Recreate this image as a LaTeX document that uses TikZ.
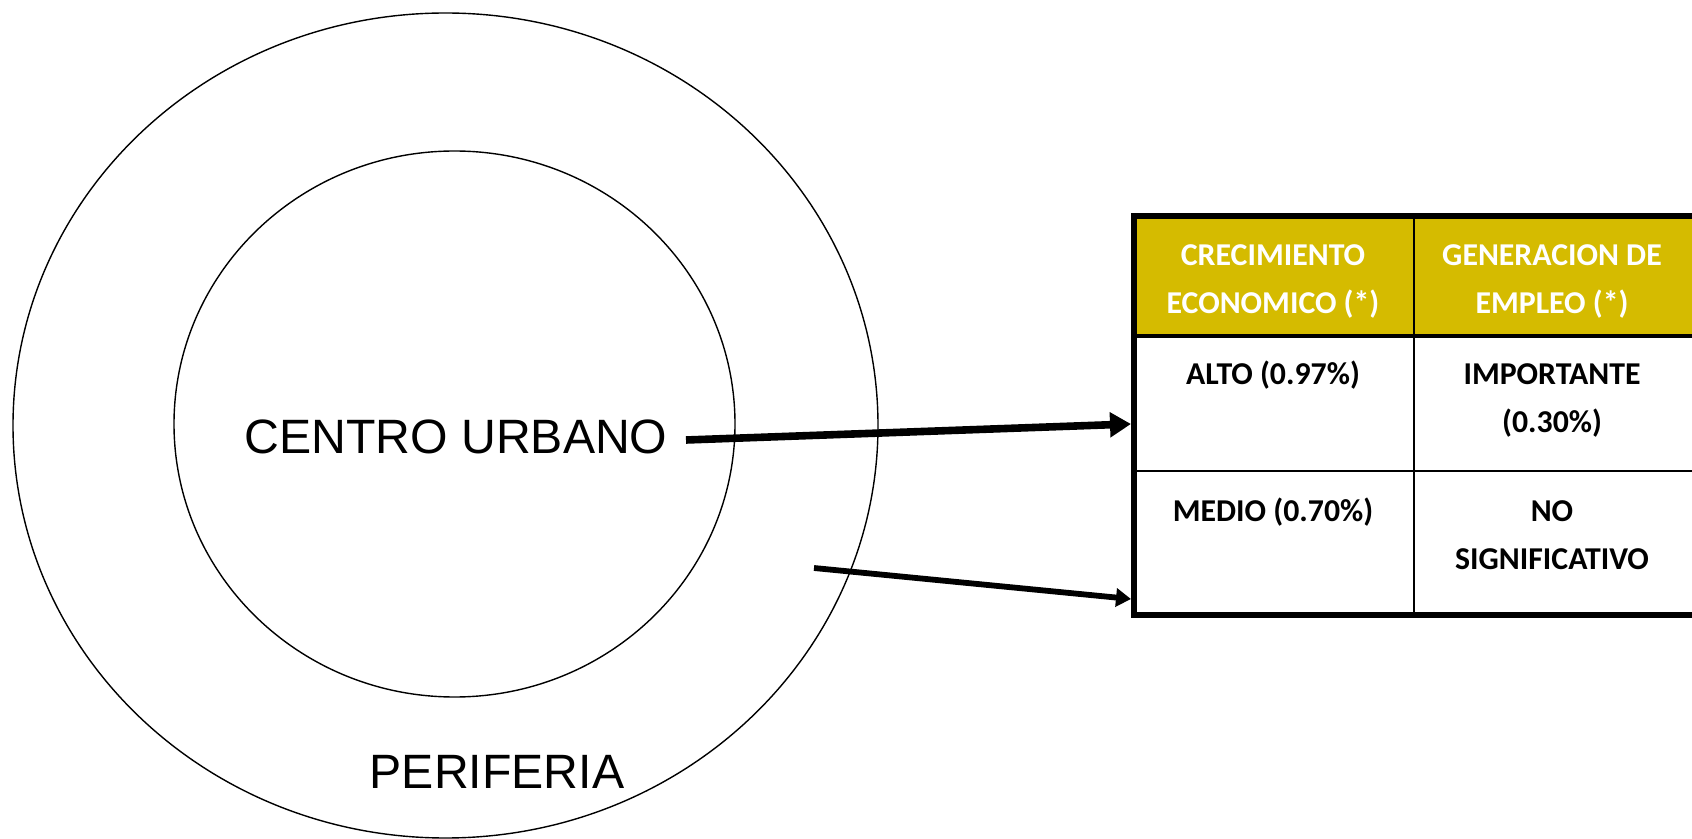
\documentclass[tikz,border=0pt]{standalone}
\usepackage{fontspec}
\setmainfont{Liberation Sans}
\newfontfamily\calfont{Carlito}
\usetikzlibrary{arrows.meta,shapes.geometric}
\definecolor{headgold}{RGB}{213,187,0}
\newcommand\mycell[1]{\parbox[t]{135pt}{\centering #1}}
\begin{document}
\begin{tikzpicture}[x=0.5pt,y=-0.5pt,
  ring/.style={ellipse,draw,line width=0.7pt,inner sep=0pt,outer sep=0pt},
  bigtext/.style={font=\fontsize{24.1pt}{28pt}\selectfont,anchor=base,inner sep=0pt},
  celltext/.style={font=\calfont\bfseries\fontsize{15.9pt}{24pt}\selectfont,anchor=base,inner sep=0pt},
  headtext/.style={celltext,text=white},
  bigarrow/.style={line width=3.8pt,-{Triangle[length=10.5pt,width=12pt]}},
  smallarrow/.style={line width=2.9pt,-{Triangle[length=7.5pt,width=9pt]}},
  thinrule/.style={line width=1.2pt},
  headrule/.style={line width=1.6pt},
  tabframe/.style={draw,line width=3pt,rectangle,inner sep=0pt,minimum width=280.5pt,minimum height=199.5pt}
]
\useasboundingbox (0,0) rectangle (1692,839);
\fill[white] (0,0) rectangle (1692,839);
\clip (0,0) rectangle (1692,839);

% rings
\node[ring,minimum width=432.5pt,minimum height=412.5pt] (outer) at (445.5,425.5) {};
\node[ring,minimum width=280.5pt,minimum height=273pt] (inner) at (454.5,424) {};

\node[bigtext] (cu) at (456,453) {CENTRO URBANO};
\node[bigtext] (peri) at (497,788) {PERIFERIA};

% table
\fill[headgold] (1134,216) rectangle (1695,336);
\draw[headrule] (1134,336) -- (1695,336);
\draw[thinrule] (1134,471) -- (1695,471);
\draw[thinrule] (1414,216) -- (1414,615);
\node[tabframe] (tab) at (1414.5,415.5) {};

\node[headtext] (h1) at (1273,266) {\mycell{CRECIMIENTO\\ECONOMICO (*)}};
\node[headtext] (h2) at (1552,266) {\mycell{GENERACION DE\\EMPLEO (*)}};
\node[celltext] (c11) at (1273,385) {\mycell{ALTO (0.97\%)}};
\node[celltext] (c12) at (1552,385) {\mycell{IMPORTANTE\\(0.30\%)}};
\node[celltext] (c21) at (1273,522) {\mycell{MEDIO (0.70\%)}};
\node[celltext] (c22) at (1552,522) {\mycell{NO\\SIGNIFICATIVO}};

% arrows
\coordinate (s1) at (686,440);
\coordinate (e1) at (1131,424);
\coordinate (s2) at (814,568);
\coordinate (e2) at (1131,599);
\draw[bigarrow] (s1) -- (e1);
\draw[smallarrow] (s2) -- (e2);
\end{tikzpicture}
\end{document}
